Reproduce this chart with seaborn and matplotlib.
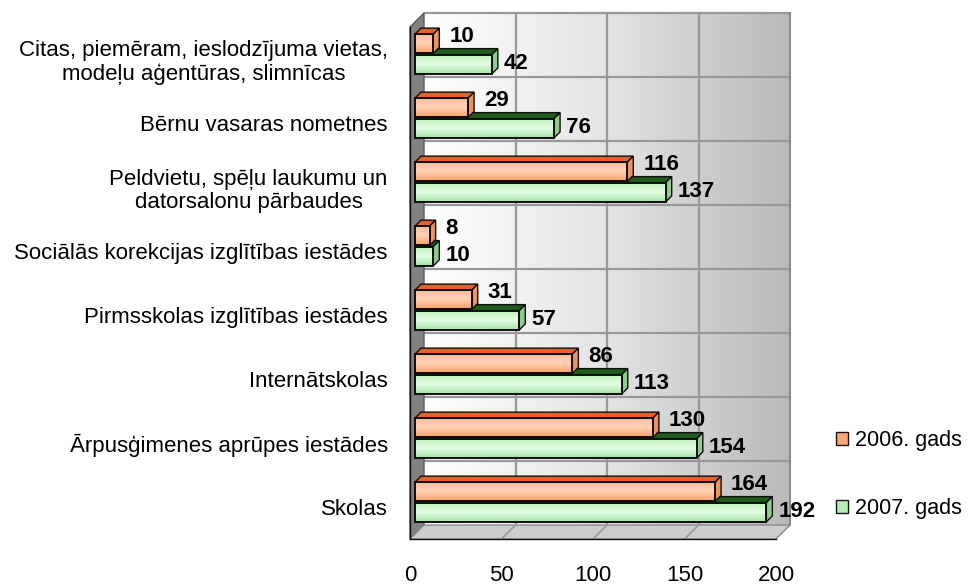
import numpy as np
import pandas as pd
import matplotlib
matplotlib.use("Agg")
import matplotlib.pyplot as plt
import seaborn as sns
from matplotlib.patches import Polygon, Patch
from matplotlib.colors import LinearSegmentedColormap

# data
categories = [
    "Citas, piemēram, ieslodzījuma vietas,\nmodeļu aģentūras, slimnīcas",
    "Bērnu vasaras nometnes",
    "Peldvietu, spēļu laukumu un\ndatorsalonu pārbaudes",
    "Sociālās korekcijas izglītības iestādes",
    "Pirmsskolas izglītības iestādes",
    "Internātskolas",
    "Ārpusģimenes aprūpes iestādes",
    "Skolas",
]
years = ["2006. gads", "2007. gads"]
v2006 = [10, 29, 116, 8, 31, 86, 130, 164]
v2007 = [42, 76, 137, 10, 57, 113, 154, 192]
x_ticks = [0, 50, 100, 150, 200]

df = pd.DataFrame({
    "kategorija": categories * 2,
    "skaits": v2006 + v2007,
    "gads": [years[0]] * len(v2006) + [years[1]] * len(v2007),
})

sns.set_style("white")
plt.rcParams["font.family"] = ["Liberation Sans", "DejaVu Sans"]
plt.rcParams["text.color"] = "black"
plt.rcParams["xtick.color"] = "black"
plt.rcParams["ytick.color"] = "black"

W, H = 974, 585
L, R, T, B = 410, 776, 27, 539
fig = plt.figure(figsize=(W / 100, H / 100), dpi=100)
ax = fig.add_axes([L / W, 1 - B / H, (R - L) / W, (B - T) / H])
ax.patch.set_alpha(0)

n = len(categories)
xmax = 200
sx = xmax / (R - L)
sy = n / (B - T)


def off(px, py):
    # pixel offset (right, up) -> data offset
    return px * sx, -py * sy


orange = "#FFA474"
green = "#B6EEB6"
sns.barplot(data=df, y="kategorija", x="skaits", hue="gads", order=categories,
            hue_order=years, palette=[orange, green], orient="h", width=0.64,
            gap=0.06, saturation=1, legend=False, ax=ax)

# 3D box: back wall, side wall, floor
wx, wy = off(14, 14)
wall_cmap = LinearSegmentedColormap.from_list("wall", ["#ffffff", "#e4e4e4", "#b9b9b9"])
ax.imshow(np.linspace(0, 1, 256).reshape(1, -1), cmap=wall_cmap, aspect="auto",
          extent=[wx, xmax + wx, n - 0.5 + wy, -0.5 + wy], zorder=0, clip_on=False)
for xv in x_ticks[1:-1]:
    ax.plot([xv + wx, xv + wx], [-0.5 + wy, n - 0.5 + wy], color="#989898", lw=1.6,
            zorder=0.5, clip_on=False)
    ax.plot([xv, xv + wx], [n - 0.5, n - 0.5 + wy], color="#989898", lw=1.2,
            zorder=0.7, clip_on=False)
for k in range(n):
    ax.plot([wx, xmax + wx], [k - 0.5 + wy, k - 0.5 + wy], color="#989898", lw=1.6,
            zorder=0.5, clip_on=False)
ax.plot([xmax + wx, xmax + wx], [-0.5 + wy, n - 0.5 + wy], color="#8c8c8c", lw=1.5,
        zorder=0.5, clip_on=False)
ax.add_patch(Polygon([(0, -0.5), (wx, -0.5 + wy), (wx, n - 0.5 + wy), (0, n - 0.5)],
                     closed=True, fc="#828282", ec="#5a5a5a", lw=1, zorder=0.6, clip_on=False))
ax.add_patch(Polygon([(0, n - 0.5), (xmax, n - 0.5), (xmax + wx, n - 0.5 + wy), (wx, n - 0.5 + wy)],
                     closed=True, fc="#cdcdcd", ec="#8a8a8a", lw=1, zorder=0.6, clip_on=False))

# 3D bars
styles = [
    dict(vals=v2006, grad=["#FFB994", "#FFD3B6", "#FF9C66"], top="#E2622A", side="#F0915E", dy=7, gap=10),
    dict(vals=v2007, grad=["#BDEFBD", "#E6FFE6", "#A4E2A4"], top="#1D5C1D", side="#8ECC8E", dy=1, gap=6),
]
bx, by = off(5, 5)
dx, dy = off(6, 6)
grad = np.linspace(0, 1, 64).reshape(-1, 1)
for cont, st in zip(ax.containers, styles):
    cmap = LinearSegmentedColormap.from_list("bar", st["grad"])
    for rect, v in zip(cont, st["vals"]):
        xl = rect.get_x() + bx
        yt = rect.get_y() + by
        w, h = rect.get_width(), rect.get_height()
        xr, yb = xl + w, yt + h
        rect.set_x(xl)
        rect.set_y(yt)
        rect.set_facecolor("none")
        rect.set_edgecolor("#0d0d0d")
        rect.set_linewidth(1.4)
        rect.set_zorder(3.2)
        im = ax.imshow(grad, cmap=cmap, aspect="auto", extent=[xl, xr, yb, yt], zorder=3.1)
        im.set_clip_path(rect)
        ax.add_patch(Polygon([(xl, yt), (xr, yt), (xr + dx, yt + dy), (xl + dx, yt + dy)],
                             closed=True, fc=st["top"], ec="#0d0d0d", lw=1.0, zorder=2.9))
        ax.add_patch(Polygon([(xr, yt), (xr + dx, yt + dy), (xr + dx, yb + dy), (xr, yb)],
                             closed=True, fc=st["side"], ec="#0d0d0d", lw=1.0, zorder=3.0))
        ax.text(xr + dx + st["gap"] * sx, (yt + yb) / 2 - st["dy"] * sy, str(v),
                ha="left", va="center", fontsize=16, fontweight="bold", color="black",
                zorder=5)

ax.set_xlim(0, xmax)
ax.set_ylim(n - 0.5, -0.5)
ax.set_xticks(x_ticks)
ax.set_xticklabels([str(t) for t in x_ticks])
ax.set_yticks(range(n))
ax.set_yticklabels(categories, multialignment="center", linespacing=1.15)
ax.set_yticks(np.arange(-0.5, n, 1), minor=True)
ax.tick_params(axis="x", length=4, width=1, pad=15, labelsize=16, direction="out")
ax.tick_params(axis="y", which="major", length=0, pad=16, labelsize=16)
ax.tick_params(axis="y", which="minor", length=4, width=1, direction="out")
ax.set_xlabel("")
ax.set_ylabel("")
for s in ["top", "right"]:
    ax.spines[s].set_visible(False)
for s in ["left", "bottom"]:
    ax.spines[s].set_color("#111111")
    ax.spines[s].set_linewidth(1)

handles = [Patch(fc=orange, ec="#151515", lw=1), Patch(fc=green, ec="#151515", lw=1)]
fig.legend(handles, years, loc="upper left", bbox_to_anchor=(836 / W, 1 - 430 / H),
           frameon=False, fontsize=15.5, handlelength=0.55, handleheight=0.55,
           handletextpad=0.35, labelspacing=2.2, borderpad=0, borderaxespad=0)

fig.savefig("out.png", dpi=100)
